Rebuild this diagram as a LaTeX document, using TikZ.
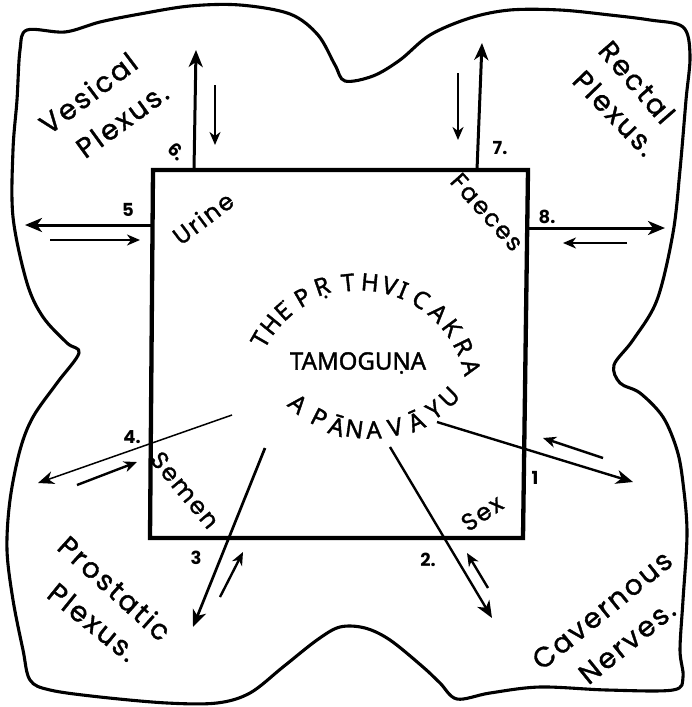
\documentclass[tikz,border=0pt]{standalone}
\usepackage{fontspec}
\setmainfont{Poppins}
\newfontfamily\handfont[LetterSpace=8.0,FakeBold=1.2]{Poppins}
\newfontfamily\centfont[FakeBold=1.5]{Noto Sans}
\usetikzlibrary{arrows.meta}
\begin{document}
\begin{tikzpicture}[x=1pt,y=1pt]
\tikzset{
  outline/.style={line width=3.1pt, line join=round},
  chakrabox/.style={line width=4.3pt, line join=miter},
  longarr/.style={line width=3pt, -{Stealth[length=17pt,width=14pt,inset=5pt]}},
  thinarr/.style={line width=1.5pt, -{Stealth[length=16pt,width=13pt,inset=5pt]}},
  shortarr/.style={line width=2.4pt, -{Stealth[length=13pt,width=11pt,inset=4pt]}},
  plexlab/.style={font=\handfont\fontsize{28}{28}\selectfont, inner sep=0pt},
  wordlab/.style={font=\handfont\fontsize{24}{24}\selectfont, inner sep=0pt},
  numlab/.style={font=\bfseries\fontsize{18}{18}\selectfont, inner sep=0pt},
  arclet/.style={font=\centfont\fontsize{24}{24}\selectfont, inner sep=0pt},
}
\useasboundingbox (0,0) rectangle (691,-707);

% outer wavy boundary
\draw[outline] plot[smooth cycle, tension=0.55] coordinates {
 (27,-30) (65,-32) (100,-22) (140,-14) (190,-6) (240,-5) (290,-14) (318,-35) (335,-65) (345,-81)
 (373,-76) (400,-60) (430,-35) (470,-18) (510,-10) (560,-10) (610,-15) (650,-20) (683,-27)
 (690,-55) (686,-100) (680,-170) (673,-233) (657,-300) (633,-340) (614,-365)
 (620,-383) (640,-393) (663,-417) (677,-450) (683,-483) (687,-533) (683,-600) (680,-650) (683,-677) (673,-690)
 (607,-690) (540,-687) (490,-693) (457,-699) (440,-683) (423,-667) (390,-640) (365,-628) (340,-627)
 (317,-640) (283,-667) (250,-693) (217,-703) (167,-703) (100,-697) (50,-690) (30,-680) (23,-650)
 (13,-600) (7,-550) (10,-500) (20,-450) (33,-417) (57,-383) (79,-353)
 (67,-343) (43,-317) (27,-283) (13,-217) (13,-150) (17,-100) (20,-50)
};

% the square
\draw[chakrabox] (153,-170) coordinate (tl) -- (528,-170) coordinate (tr) -- (523,-538) coordinate (br) -- (150,-538) coordinate (bl) -- cycle;

% arrow ends
\coordinate (a6s) at (194,-170); \coordinate (a6e) at (196,-50);
\coordinate (b6s) at (215,-85);  \coordinate (b6e) at (215,-145);
\coordinate (a5s) at (153,-225); \coordinate (a5e) at (25,-225);
\coordinate (b5s) at (50,-240);  \coordinate (b5e) at (140,-240);
\coordinate (a7s) at (477,-170); \coordinate (a7e) at (482,-43);
\coordinate (b7s) at (458,-73);  \coordinate (b7e) at (458,-140);
\coordinate (a8s) at (528,-228); \coordinate (a8e) at (665,-228);
\coordinate (b8s) at (627,-243); \coordinate (b8e) at (563,-243);
\coordinate (a1s) at (437,-422); \coordinate (a1e) at (633,-482);
\coordinate (b1s) at (603,-458); \coordinate (b1e) at (543,-438);
\coordinate (a2s) at (390,-447); \coordinate (a2e) at (492,-618);
\coordinate (b2s) at (488,-588); \coordinate (b2e) at (467,-553);
\coordinate (a3s) at (265,-448); \coordinate (a3e) at (193,-627);
\coordinate (b3s) at (220,-597); \coordinate (b3e) at (243,-552);
\coordinate (a4s) at (232,-415); \coordinate (a4e) at (38,-483);
\coordinate (b4s) at (77,-485);  \coordinate (b4e) at (137,-462);

\draw[longarr] (a6s) -- (a6e);  \draw[shortarr] (b6s) -- (b6e);
\draw[longarr] (a5s) -- (a5e);  \draw[shortarr] (b5s) -- (b5e);
\draw[longarr] (a7s) -- (a7e);  \draw[shortarr] (b7s) -- (b7e);
\draw[longarr] (a8s) -- (a8e);  \draw[shortarr] (b8s) -- (b8e);
\draw[longarr, line width=2.4pt] (a1s) -- (a1e);  \draw[shortarr] (b1s) -- (b1e);
\draw[longarr, line width=2.4pt] (a2s) -- (a2e);  \draw[shortarr] (b2s) -- (b2e);
\draw[longarr, line width=2.7pt] (a3s) -- (a3e);  \draw[shortarr] (b3s) -- (b3e);
\draw[thinarr] (a4s) -- (a4e);  \draw[shortarr] (b4s) -- (b4e);

% numbers
\node[numlab, rotate=-45] (n6) at (177,-152) {6.};
\node[numlab] (n5) at (128,-210) {5};
\node[numlab] (n7) at (500,-148) {7.};
\node[numlab] (n8) at (547,-217) {8.};
\node[numlab] (n1) at (535,-478) {1};
\node[numlab] (n2) at (428,-560) {2.};
\node[numlab] (n3) at (196,-558) {3};
\node[numlab] (n4) at (132,-437) {4.};

% words inside the square
\node[wordlab, rotate=37] (urine) at (203,-218) {Urine};
\node[wordlab, rotate=-48] (faeces) at (487,-212) {Faeces};
\node[wordlab, rotate=-50] (semen) at (185,-490) {Semen};
\node[wordlab, rotate=34] (sex) at (482,-513) {Sex};

% plexus labels
\node[plexlab, rotate=37] (ves1) at (88,-93) {Vesical};
\node[plexlab, rotate=36] (ves2) at (122,-120) {Plexus.};
\node[plexlab, rotate=-49] (rec1) at (637,-82) {Rectal};
\node[plexlab, rotate=-46] (rec2) at (615,-113) {Plexus.};
\node[plexlab, rotate=-42] (pro1) at (115,-588) {Prostatic};
\node[plexlab, rotate=-39] (pro2) at (93,-622) {Plexus.};
\node[plexlab, rotate=39] (cav1) at (602,-610) {Cavernous};
\node[plexlab, rotate=39] (cav2) at (627,-642) {Nerves.};

% central text
\foreach \a/\c in {150/T,141/H,132/E,120/P,109/Ṛ,96/T,85/H,75/V,68/I,58/C,47/A,37/K,26/R,15/A}
  \node[arclet, rotate=\a-90] (u\a) at ([shift={(\a:115)}]360,-397) {\c};
\fill (283,-301) circle (1.4);
\node[arclet] (tamo) at (358,-363) {TAMOGUṆA};
\foreach \a/\c in {-130/A,-117/P,-107/Ā,-98/N,-88/A,-77/V,-66/Ā,-55/Y,-45/U}
  \node[arclet, rotate=\a+90] (l\a) at ([shift={(\a:112)}]370,-318) {\c};
\end{tikzpicture}
\end{document}
